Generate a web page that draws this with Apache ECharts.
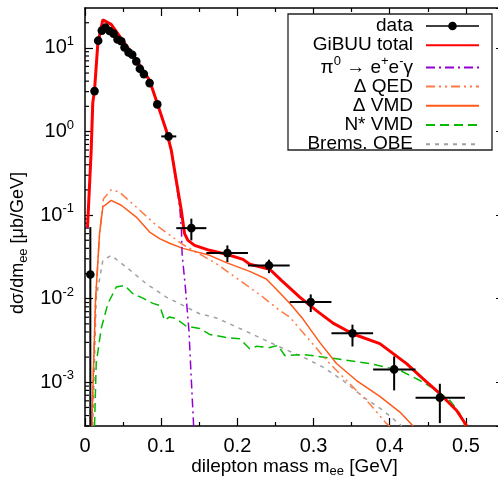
<!DOCTYPE html>
<html><head><meta charset="utf-8">
<script src="https://cdn.jsdelivr.net/npm/echarts@6/dist/echarts.min.js"></script>
<style>html,body{margin:0;padding:0;background:#fff}#c{width:498px;height:483px}</style>
</head><body><div id="c"></div>
<script>
// ---- axis tick labels ----
const xTickLabels = ['0', '0.1', '0.2', '0.3', '0.4', '0.5'];
const xTickValues = [0, 0.1, 0.2, 0.3, 0.4, 0.5];
const yTickExponents = [-3, -2, -1, 0, 1];

// ---- measured data points ----
const dataX     = [0.007, 0.0125, 0.0173, 0.0221, 0.0269, 0.0322, 0.0375, 0.0427, 0.0476, 0.0519, 0.0572, 0.0620, 0.0673, 0.0720, 0.0773, 0.0848, 0.0949, 0.1097, 0.1396, 0.1869, 0.2415, 0.2963, 0.3511, 0.4058, 0.4658];
const dataY     = [0.0195, 3.04, 12.2, 16.1, 17.5, 15.9, 14.8, 12.6, 12.0, 10.1, 8.83, 8.29, 6.90, 5.64, 4.86, 3.79, 2.11, 0.873, 0.0698, 0.0351, 0.0250, 0.0091, 0.00385, 0.001426, 0.000655];
const dataXLow  = [null, null, null, null, null, null, null, null, null, null, null, null, null, null, null, null, null, 0.1001, 0.1198, 0.1593, 0.2139, 0.2687, 0.3235, 0.3782, 0.4339];
const dataXHigh = [null, null, null, null, null, null, null, null, null, null, null, null, null, null, null, null, null, 0.1198, 0.1593, 0.2139, 0.2687, 0.3235, 0.3782, 0.4339, 0.4987];
const dataYLow  = [0.0003, null, null, null, null, null, null, null, null, null, null, null, null, null, null, null, null, null, 0.0498, 0.0274, 0.0202, 0.00692, 0.00268, 0.0008, 0.000325];
const dataYHigh = [0.0718, null, null, null, null, null, null, null, null, null, null, null, null, null, null, null, null, null, 0.0906, 0.0434, 0.0293, 0.01125, 0.00489, 0.00204, 0.00096];

// ---- model curves [mass, dsigma] ----
const totalCurve = [[0.0033,0.071],[0.0081,0.59],[0.0102,2.2],[0.0125,3.1],[0.0168,11.2],[0.0234,21.7],[0.0344,19.1],[0.0650,7.76],[0.0848,4.08],[0.0979,1.79],[0.1067,1.03],[0.1133,0.594],[0.1198,0.26],[0.1264,0.114],[0.1307,0.060],[0.1351,0.0498],[0.1439,0.0434],[0.1636,0.0379],[0.1855,0.0340],[0.2074,0.0295],[0.2162,0.0258],[0.2425,0.0225],[0.2578,0.0166],[0.2819,0.01045],[0.3038,0.0072],[0.3256,0.0051],[0.3519,0.00378],[0.3870,0.0029],[0.4221,0.00167],[0.4439,0.0011],[0.4658,0.00073],[0.4878,0.00046],[0.5012,0.0003]];
const pi0Curve = [[0.0033,0.069],[0.0081,0.57],[0.0102,2.15],[0.0125,3.03],[0.0168,10.9],[0.0234,21.2],[0.0344,18.8],[0.0650,7.6],[0.0848,4.0],[0.0979,1.75],[0.1067,1.0],[0.1133,0.57],[0.1198,0.24],[0.1245,0.12],[0.1266,0.066],[0.1274,0.035],[0.1317,0.0138],[0.1364,0.0042],[0.1396,0.00106],[0.1426,0.0003]];
const deltaQedCurve = [[0.0089,0.0003],[0.0138,0.0095],[0.0191,0.060],[0.0243,0.157],[0.0344,0.201],[0.0453,0.188],[0.0673,0.125],[0.0936,0.0753],[0.1281,0.0447],[0.1724,0.0262],[0.2030,0.0166],[0.2336,0.01046],[0.2556,0.00724],[0.2687,0.00602],[0.2950,0.00317],[0.3213,0.00167],[0.3476,0.00096],[0.3739,0.00055],[0.3958,0.00032],[0.4000,0.0003]];
const deltaVmdCurve = [[0.0089,0.0003],[0.0138,0.0095],[0.0191,0.060],[0.0234,0.125],[0.0344,0.150],[0.0476,0.131],[0.0673,0.0946],[0.0848,0.0627],[0.0979,0.0522],[0.1110,0.046],[0.1285,0.040],[0.1636,0.0330],[0.1855,0.0270],[0.2162,0.0212],[0.2380,0.0172],[0.2556,0.0118],[0.2687,0.0088],[0.2862,0.0057],[0.3081,0.0030],[0.3301,0.00168],[0.3564,0.00105],[0.3870,0.00068],[0.4133,0.00044],[0.4307,0.0003]];
const nstarVmdCurve = [[0.0125,0.0003],[0.0147,0.00167],[0.0213,0.00441],[0.0300,0.0087],[0.0410,0.01377],[0.0519,0.01443],[0.0628,0.01148],[0.0760,0.01016],[0.0891,0.00879],[0.0979,0.00832],[0.1045,0.0055],[0.1110,0.00605],[0.1198,0.00576],[0.1330,0.00467],[0.1505,0.00441],[0.1636,0.00374],[0.1855,0.00344],[0.2030,0.00332],[0.2162,0.00252],[0.2250,0.00269],[0.2425,0.0026],[0.2534,0.00276],[0.2622,0.00209],[0.2862,0.00215],[0.3301,0.00191],[0.3739,0.00167],[0.4133,0.00139],[0.4396,0.00105],[0.4615,0.0008],[0.4790,0.000607],[0.4921,0.00042],[0.4987,0.0003]];
const bremsCurve = [[0.0102,0.0003],[0.0147,0.0101],[0.0234,0.0287],[0.0344,0.033],[0.0541,0.0239],[0.0804,0.0151],[0.1067,0.01045],[0.1242,0.0087],[0.1505,0.0066],[0.1724,0.00589],[0.2139,0.00398],[0.2512,0.00276],[0.2862,0.0020],[0.3125,0.00152],[0.3388,0.00105],[0.3650,0.00067],[0.3913,0.00046],[0.4159,0.0003]];

// ---- series names ----
const seriesNames = ['data', 'GiBUU total', 'π0 → e+e-γ', 'Δ QED', 'Δ VMD', 'N* VMD', 'Brems. OBE'];
const legendRichText = {
  'data': 'data',
  'GiBUU total': 'GiBUU total',
  'π0 → e+e-γ': 'π{sup|0} → e{sup|+}e{sup|-}γ',
  'Δ QED': 'Δ QED',
  'Δ VMD': 'Δ VMD',
  'N* VMD': 'N* VMD',
  'Brems. OBE': 'Brems. OBE'
};

const FONT = "'Liberation Sans', Arial, Helvetica, sans-serif";
const rich = {
  sup: {fontSize: 13, verticalAlign: 'top', height: 7, fontFamily: FONT, color: '#000'},
  sub: {fontSize: 13, verticalAlign: 'bottom', height: 9, fontFamily: FONT, color: '#000'}
};

// minor log ticks for left axis
const minorTickVals = [];
for (let k = -4; k <= 1; k++) for (let m = 2; m <= 9; m++) {
  const v = m * Math.pow(10, k);
  if (v > 0.0003 && v < 30) minorTickVals.push([0, v]);
}

const errData = dataX.map((x, i) => [x, dataY[i], dataXLow[i], dataXHigh[i], dataYLow[i], dataYHigh[i]]);

function fin(v) { return v !== null && v !== undefined && isFinite(v); }

function renderData(params, api) {
  const x = api.value(0), y = api.value(1);
  const xl = api.value(2), xh = api.value(3), yl = api.value(4), yh = api.value(5);
  const c = api.coord([x, y]);
  const st = {stroke: '#000', lineWidth: 2};
  const ch = [];
  if (fin(xl) && fin(xh)) {
    const a = api.coord([xl, y]), b = api.coord([xh, y]);
    ch.push({type: 'line', shape: {x1: a[0], y1: a[1], x2: b[0], y2: b[1]}, style: st});
  }
  if (fin(yl) && fin(yh)) {
    const a = api.coord([x, yl]), b = api.coord([x, yh]);
    ch.push({type: 'line', shape: {x1: a[0], y1: a[1], x2: b[0], y2: b[1]}, style: st});
  }
  ch.push({type: 'circle', shape: {cx: c[0], cy: c[1], r: 4.3}, style: {fill: '#000'}});
  return {type: 'group', children: ch};
}

function lineSeries(name, data, color, width, type, z) {
  return {
    name: name, type: 'line', data: data, showSymbol: false, symbol: 'none', smooth: false,
    clip: true, z: z, lineStyle: {color: color, width: width, type: type},
    itemStyle: {color: color}, emphasis: {disabled: true}, silent: true
  };
}

const axisLineStyle = {color: '#000', width: 1.5};
const tickStyle = {color: '#000', width: 1.2};

const option = {
  animation: false,
  backgroundColor: '#fff',
  textStyle: {fontFamily: FONT},
  grid: {left: 85, right: -6, top: 8, bottom: 57, containLabel: false, outerBoundsMode: 'none'},
  xAxis: [
    {
      type: 'value', min: 0, max: 0.55, interval: 0.1, position: 'bottom',
      name: 'dilepton mass m{sub|ee} [GeV]', nameLocation: 'middle', nameGap: 31, nameMoveOverlap: false,
      nameTextStyle: {fontSize: 19, color: '#000', lineHeight: 19, rich: rich},
      axisLine: {show: true, onZero: false, lineStyle: axisLineStyle},
      axisTick: {show: true, inside: true, length: 8, lineStyle: tickStyle},
      minorTick: {show: true, splitNumber: 2, length: 4, lineStyle: tickStyle},
      axisLabel: {show: true, margin: 10, fontSize: 20, color: '#000', showMaxLabel: false, hideOverlap: false,
        formatter: function (v) {
          const i = xTickValues.findIndex(t => Math.abs(t - v) < 1e-9);
          return i >= 0 ? xTickLabels[i] : '';
        }},
      splitLine: {show: false}, minorSplitLine: {show: false}
    },
    {
      type: 'value', min: 0, max: 0.55, interval: 0.1, position: 'top',
      axisLine: {show: true, onZero: false, lineStyle: axisLineStyle},
      axisTick: {show: true, inside: true, length: 8, lineStyle: tickStyle},
      minorTick: {show: true, splitNumber: 2, length: 4, lineStyle: tickStyle},
      axisLabel: {show: false}, splitLine: {show: false}, minorSplitLine: {show: false}
    }
  ],
  yAxis: [
    {
      type: 'log', logBase: 10, min: 0.0003, max: 30, position: 'left',
      name: 'dσ/dm{sub|ee} [μb/GeV]', nameLocation: 'middle', nameGap: 57, nameRotate: 90, nameMoveOverlap: false,
      nameTextStyle: {fontSize: 18, color: '#000', lineHeight: 19, padding: [0, 52, 0, 0], rich: rich},
      axisLine: {show: true, onZero: false, lineStyle: axisLineStyle},
      axisTick: {show: true, inside: true, length: 8, lineStyle: tickStyle},
      axisLabel: {show: true, margin: 11, fontSize: 20, color: '#000', lineHeight: 20, showMinLabel: false, showMaxLabel: false, hideOverlap: false,
        rich: rich,
        formatter: function (v) {
          const lg = Math.log10(v);
          const r = Math.round(lg);
          if (Math.abs(lg - r) > 1e-6 || yTickExponents.indexOf(r) < 0) return '';
          return '10{sup|' + r + '}';
        }},
      splitLine: {show: false}, minorSplitLine: {show: false}
    },
    {
      type: 'log', logBase: 10, min: 0.0003, max: 30, position: 'right',
      axisLine: {show: true, onZero: false, lineStyle: axisLineStyle},
      axisTick: {show: true, inside: true, length: 8, lineStyle: tickStyle},
      axisLabel: {show: false}, splitLine: {show: false}
    }
  ],
  legend: {
    orient: 'vertical', right: 18, top: 16.5, padding: 0, itemGap: 0.2,
    itemWidth: 53, itemHeight: 10, align: 'right', selectedMode: false, z: 5,
    itemStyle: {opacity: 0},
    textStyle: {fontSize: 19, color: '#000', lineHeight: 19, padding: [0, 8, 0, 0], rich: rich},
    formatter: function (name) { return legendRichText[name] || name; },
    data: [
      {name: seriesNames[0], itemStyle: {opacity: 1, color: '#000'},
       icon: 'path://M0,4.2 L53,4.2 L53,5.8 L0,5.8 Z M22.2,5 A4.3,4.3 0 1 1 30.8,5 A4.3,4.3 0 1 1 22.2,5 Z'},
      seriesNames[1], seriesNames[2], seriesNames[3], seriesNames[4], seriesNames[5], seriesNames[6]
    ]
  },
  graphic: [
    {type: 'rect', shape: {x: 288, y: 14, width: 204, height: 136}, style: {fill: '#fff', stroke: '#222', lineWidth: 1.3}, z: 3, silent: true}
  ],
  series: [
    {
      type: 'custom', name: 'minorTicks', silent: true, clip: false, z: 1,
      data: minorTickVals, encode: {x: 0, y: 1},
      renderItem: function (params, api) {
        const p = api.coord([api.value(0), api.value(1)]);
        return {type: 'line', shape: {x1: p[0], y1: p[1], x2: p[0] + 4, y2: p[1]}, style: {stroke: '#000', lineWidth: 1.2}};
      }
    },
    lineSeries(seriesNames[6], bremsCurve, '#a0a0a0', 1.5, [4, 5], 2),
    lineSeries(seriesNames[5], nstarVmdCurve, '#00bb00', 1.5, [9, 5], 2),
    lineSeries(seriesNames[3], deltaQedCurve, '#ff7a45', 1.5, [9, 4, 2, 4, 2, 4], 2),
    lineSeries(seriesNames[4], deltaVmdCurve, '#ff5a1a', 1.5, 'solid', 2),
    lineSeries(seriesNames[2], pi0Curve, '#9400d3', 1.5, [9, 4, 2, 4], 2),
    lineSeries(seriesNames[1], totalCurve, '#ff0000', 3, 'solid', 2),
    {
      type: 'custom', name: seriesNames[0], clip: true, z: 3,
      itemStyle: {color: '#000'},
      data: errData, encode: {x: 0, y: 1},
      renderItem: renderData
    }
  ]
};

const chart = echarts.init(document.getElementById('c'), null, {renderer: 'canvas'});
chart.setOption(option);
</script>
</body></html>
